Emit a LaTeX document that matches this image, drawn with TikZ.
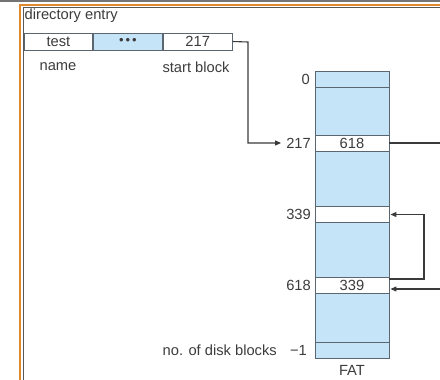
\documentclass[tikz,border=0pt]{standalone}
\usepackage{fontspec}
\setmainfont{Liberation Sans}
\usetikzlibrary{arrows.meta}
\definecolor{fatblue}{HTML}{C6E4F7}
\definecolor{txtgray}{HTML}{3C3C3C}
\definecolor{edgegray}{HTML}{5A6670}
\definecolor{lnk}{HTML}{3A3A3A}
\definecolor{frameor}{HTML}{E08A2E}
\begin{document}
\begin{tikzpicture}[x=1pt,y=-1pt,
  every node/.style={font=\fontsize{14.7}{16}\selectfont, text=txtgray, inner sep=0pt},
  cell/.style={draw=edgegray, line width=0.9pt, minimum height=17pt, anchor=west},
  fatrow/.style={draw=edgegray, line width=0.9pt, fill=white, minimum width=74pt, minimum height=16pt, anchor=center},
  lab/.style={anchor=east},
  link/.style={draw=lnk, line width=1.1pt},
  linkarr/.style={link, -{Triangle[length=6pt,width=5pt]}}
]
\useasboundingbox (0,0) rectangle (440,380);
% frame
\draw[black!55, line width=1.2pt] (0,1) -- (440,1);
\draw[frameor, line width=2pt] (20.3,380) -- (20.3,4.5) -- (440,4.5);
\draw[black!65, line width=0.8pt] (23,380) -- (23,7) -- (440,7);

% directory entry
\node[anchor=west] (dirlab) at (24.5,16) {directory entry};
\node[cell, minimum width=68pt] (test) at (24,41.5) {test};
\node[cell, minimum width=69pt, fill=fatblue] (dots) at (test.east) {\fontsize{13}{14}\selectfont •\kern2pt•\kern2pt•};
\node[cell, minimum width=69pt] (sb) at (dots.east) {217};
\node (namelab) at (58,67) {name};
\node (sblab) at (196,67) {start block};

% FAT
\node[draw=edgegray, line width=0.9pt, fill=fatblue, minimum width=74pt, minimum height=287pt, anchor=north west] (fat) at (315,71) {};
\draw[edgegray, line width=0.9pt] (315,87) -- (389,87);
\draw[edgegray, line width=0.9pt] (315,342) -- (389,342);
\node[fatrow] (r217) at (352,143) {618};
\node[fatrow] (r339) at (352,214.5) {};
\node[fatrow] (r618) at (352,285) {339};
\node (fatlab) at (352,370) {FAT};

% row labels
\node[lab] (l0) at (310,79) {0};
\node[lab] (l217) at (311,143) {217};
\node[lab] (l339) at (311,214.5) {339};
\node[lab] (l618) at (311,285) {618};
\node[lab] (lm1) at (307,350) {−1};
\node[lab] (ndb) at (277,350) {no. of disk blocks};

% connectors
\coordinate (c1) at (248,42);
\draw[linkarr] (sb.east) -- (c1) |- ([xshift=-5pt]l217.west);
\coordinate (out217) at (440,143);
\draw[link] (r217.east) -- (out217);
\coordinate (lp) at (424,279);
\draw[linkarr] ([yshift=6pt]r618.east) -- (lp) |- ([xshift=1pt]r339.east);
\coordinate (in618) at (440,289);
\draw[linkarr] (in618) -- ([xshift=1pt,yshift=-4pt]r618.east);
\end{tikzpicture}
\end{document}
